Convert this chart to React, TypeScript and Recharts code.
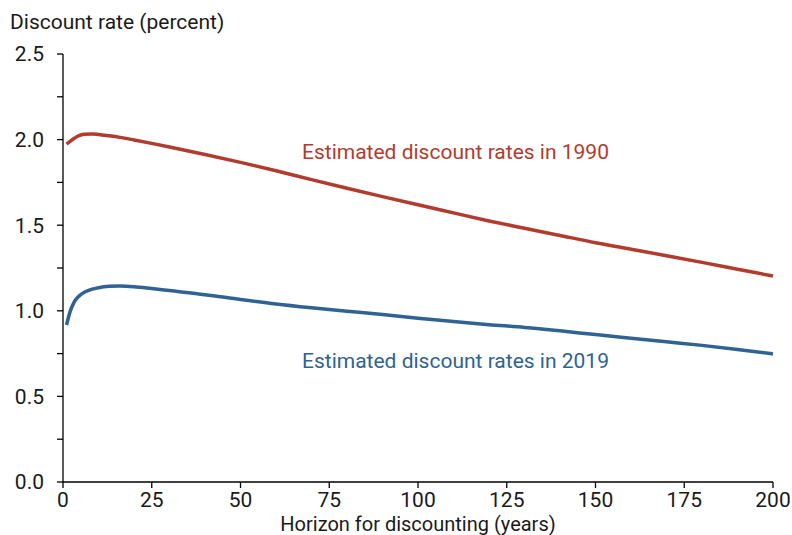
import { Line, LineChart, XAxis, YAxis } from "recharts";

const horizons = [1, 2, 3, 4, 5, 6, 8, 10, 13, 16, 20, 25, 30, 40, 50, 60, 70, 80, 90, 100, 110, 120, 130, 140, 150, 160, 170, 180, 190, 200];
const rates1990 = [1.974, 1.99, 2.005, 2.018, 2.027, 2.031, 2.033, 2.03, 2.022, 2.013, 1.998, 1.978, 1.957, 1.913, 1.867, 1.818, 1.766, 1.716, 1.667, 1.619, 1.572, 1.525, 1.482, 1.44, 1.398, 1.36, 1.322, 1.283, 1.243, 1.203];
const rates2019 = [0.917, 0.995, 1.045, 1.075, 1.095, 1.108, 1.125, 1.135, 1.143, 1.145, 1.141, 1.13, 1.118, 1.094, 1.066, 1.04, 1.018, 0.998, 0.979, 0.957, 0.937, 0.919, 0.903, 0.883, 0.861, 0.84, 0.819, 0.798, 0.774, 0.748];

const xTicks = [0, 25, 50, 75, 100, 125, 150, 175, 200];
const yTicks = [0, 0.25, 0.5, 0.75, 1, 1.25, 1.5, 1.75, 2, 2.25, 2.5];

const data = horizons.map((h, i) => ({ h, r1990: rates1990[i], r2019: rates2019[i] }));

const RED = "#b23b2e";
const BLUE = "#2e6394";
const FONT = "Roboto, sans-serif";

const App = () => {
  return (
    <div style={{ position: "absolute", left: 0, top: 0, width: 792, height: 535, fontFamily: FONT, background: "#fff", overflow: "hidden" }}>
      <LineChart width={792} height={535} data={data} margin={{ top: 54, right: 19, bottom: 13, left: 0 }}>
        <XAxis
          dataKey="h"
          type="number"
          domain={[0, 200]}
          ticks={xTicks}
          height={40}
          tickSize={6}
          tickMargin={4}
          axisLine={{ stroke: "#000", strokeWidth: 1.3 }}
          tickLine={{ stroke: "#000", strokeWidth: 1.3 }}
          tick={{ fill: "#1a1a1a", fontSize: 21, fontFamily: FONT }}
        />
        <YAxis
          type="number"
          domain={[0, 2.5]}
          ticks={yTicks}
          width={63}
          tickSize={6}
          tickMargin={13}
          interval={0}
          tickFormatter={(v: number) => (Math.round(v * 100) % 50 === 0 ? v.toFixed(1) : "")}
          axisLine={{ stroke: "#000", strokeWidth: 1.3 }}
          tickLine={{ stroke: "#000", strokeWidth: 1.3 }}
          tick={{ fill: "#1a1a1a", fontSize: 21, fontFamily: FONT }}
        />
        <Line type="monotone" dataKey="r1990" stroke={RED} strokeWidth={3.5} dot={false} isAnimationActive={false} />
        <Line type="monotone" dataKey="r2019" stroke={BLUE} strokeWidth={3.5} dot={false} isAnimationActive={false} />
      </LineChart>

      <div style={{ position: "absolute", left: 10, top: 12, fontSize: 21, lineHeight: 1, color: "#1a1a1a" }}>
        Discount rate (percent)
      </div>
      <div style={{ position: "absolute", left: 302, top: 142, fontSize: 21, lineHeight: 1, color: RED }}>
        Estimated discount rates in 1990
      </div>
      <div style={{ position: "absolute", left: 302, top: 351, fontSize: 21, lineHeight: 1, color: BLUE }}>
        Estimated discount rates in 2019
      </div>
      <div style={{ position: "absolute", left: 0, width: 836, top: 514, textAlign: "center", fontSize: 20, lineHeight: 1, color: "#1a1a1a" }}>
        Horizon for discounting (years)
      </div>
    </div>
  );
};

export default App;
